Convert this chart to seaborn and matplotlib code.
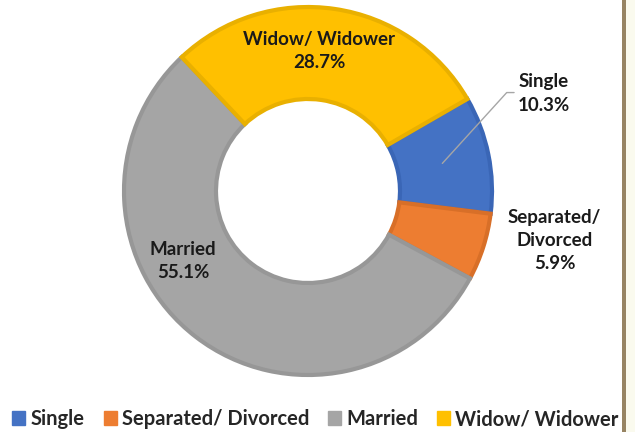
import numpy as np
import matplotlib
matplotlib.use("Agg")
import matplotlib.pyplot as plt
import matplotlib.patches as mpatches
import seaborn as sns

# --- data ---
categories = ["Single", "Separated/ Divorced", "Married", "Widow/ Widower"]
shares = [10.3, 5.9, 55.1, 28.7]
slice_labels = ["Single", "Separated/\nDivorced", "Married", "Widow/ Widower"]
colors = ["#4472C4", "#ED7D31", "#A5A5A5", "#FFC000"]
edge_colors = ["#3A66B6", "#D86F28", "#979797", "#E9B000"]

sns.set_theme(style="white")
plt.rcParams["font.family"] = ["Lato", "DejaVu Sans"]

fig = plt.figure(figsize=(6.35, 4.32), dpi=100)
W, H = 635, 432
cx, cy, r = 308, 191, 184
ax = fig.add_axes([(cx - r) / W, (H - cy - r) / H, 2 * r / W, 2 * r / H])

wedges, _ = ax.pie(shares, colors=colors, startangle=30, counterclock=False,
                   radius=1.0, wedgeprops=dict(width=0.5, linewidth=3))
for w, ec in zip(wedges, edge_colors):
    w.set_edgecolor(ec)
ax.set_xlim(-1, 1)
ax.set_ylim(-1, 1)
ax.set_aspect("equal")
ax.axis("off")

# label layout (data coords of the axes)
label_pos = [(1.28, 0.53), (1.34, -0.27), (-0.68, -0.38), (0.06, 0.76)]
for lab, val, (x, y) in zip(slice_labels, shares, label_pos):
    ax.text(x, y, f"{lab}\n{val}%", ha="center", va="center", fontsize=13.5,
            fontweight="bold", color="#1a1a1a", linespacing=1.45, clip_on=False)

# leader line for the Single label
ax.plot([0.73, 1.08, 1.12], [0.15, 0.535, 0.535], color="#A6A6A6", lw=1,
        clip_on=False)

handles = [mpatches.Patch(facecolor=c, edgecolor=c) for c in colors]
fig.legend(handles, categories, loc="center", bbox_to_anchor=(0.497, 1 - 419 / H),
           ncol=4, frameon=False, handlelength=0.65, handleheight=0.65,
           handletextpad=0.25, columnspacing=0.95, borderaxespad=0,
           prop=dict(family=["Lato", "DejaVu Sans"], weight="bold", size=14.5))

# page border on the right
fig.add_artist(mpatches.Rectangle((626 / W, 0), 9 / W, 1, transform=fig.transFigure,
                                  facecolor="#FAFAEE", edgecolor="none"))
fig.add_artist(mpatches.Rectangle((622 / W, 0), 4 / W, 1, transform=fig.transFigure,
                                  facecolor="#978463", edgecolor="none"))

fig.savefig("out.png", dpi=100)
